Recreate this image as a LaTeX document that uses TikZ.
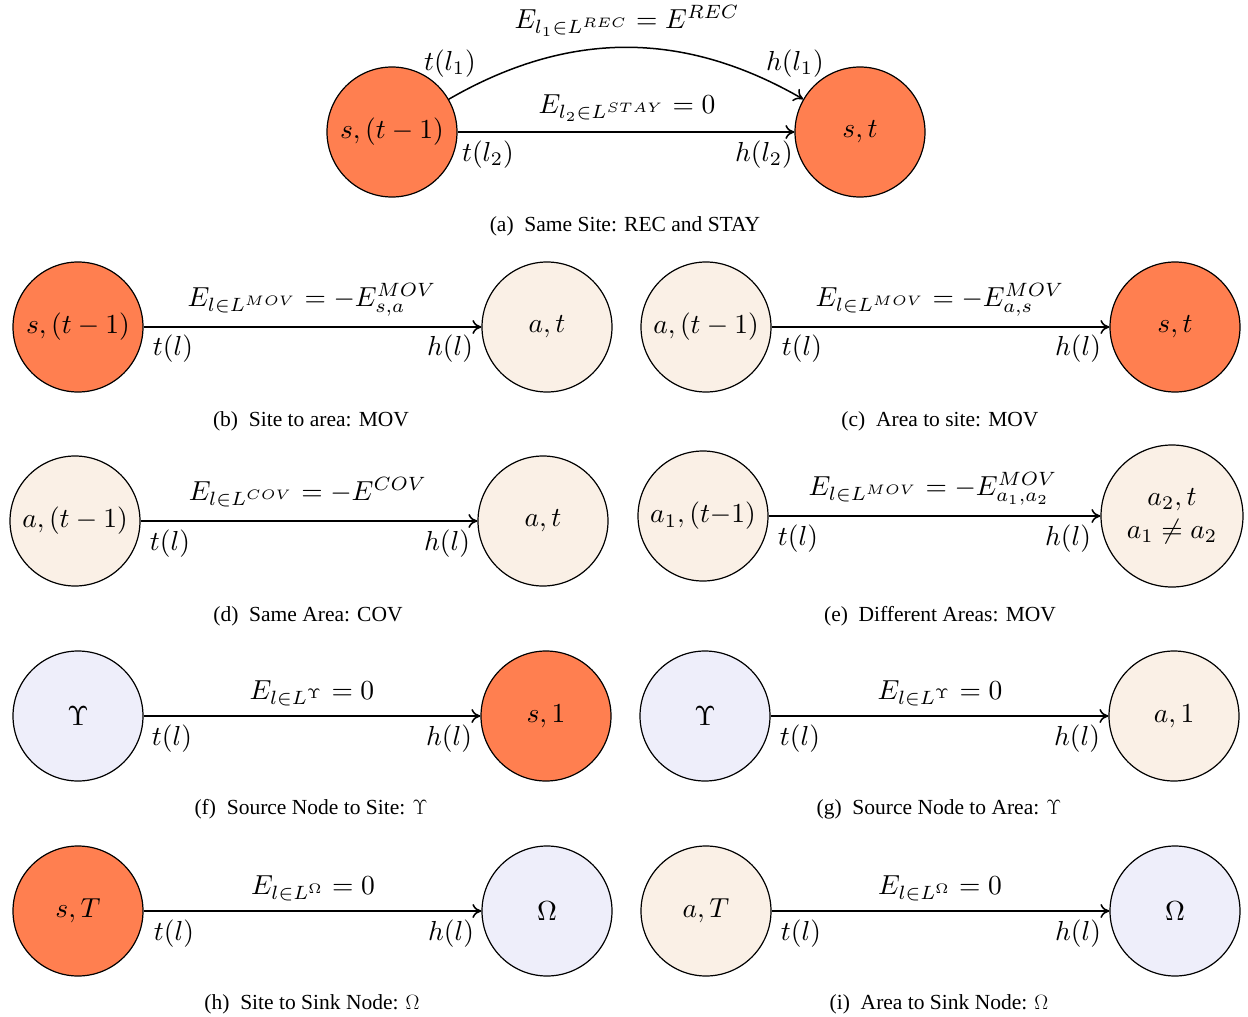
\documentclass[tikz,border=0pt]{standalone}
\usepackage{fontspec}
\setmainfont{Liberation Serif}
\usepackage{amsmath}
\usepackage{graphicx}
\usetikzlibrary{arrows.meta}
\definecolor{siteC}{RGB}{255,127,80}
\definecolor{areaC}{RGB}{250,240,230}
\definecolor{termC}{RGB}{238,238,250}
\newcommand\mymath[1]{\scalebox{2.75}{$#1$}}
\tikzset{
  st/.style={circle,draw=black,line width=1.2pt,minimum size=130pt,inner sep=0pt},
  site/.style={st,fill=siteC},
  area/.style={st,fill=areaC},
  term/.style={st,fill=termC},
  lnk/.style={line width=1.5pt,-{To[length=9pt,width=14pt]}},
  lab/.style={anchor=base,inner sep=0pt},
  captxt/.style={inner sep=0pt,font=\fontsize{21.5}{26}\selectfont}
}
\begin{document}
\begin{tikzpicture}[x=1pt,y=-1pt]
\useasboundingbox (0,0) rectangle (1248,1017);
% (a)
\node[site] (a1) at (392,132) {\mymath{s,(t-1)}};
\node[site] (a2) at (860,132) {\mymath{s,t}};
\draw[lnk] (a1) to[bend left=30] (a2);
\draw[lnk] (a1) -- (a2);
\node[lab] (aE1) at (627,28) {\mymath{E_{l_1\in L^{REC}}=E^{REC}}};
\node[lab] (aE2) at (627,113) {\mymath{E_{l_2\in L^{STAY}}=0}};
\node[lab] (at1) at (450,70) {\mymath{t(l_1)}};
\node[lab] (ah1) at (795,70) {\mymath{h(l_1)}};
\node[lab] (at2) at (488,161) {\mymath{t(l_2)}};
\node[lab] (ah2) at (764,161) {\mymath{h(l_2)}};
\node[captxt] (capa) at (625,226) {(a)\ \ Same Site: REC and STAY};
% (b)
\node[site] (b1) at (78,327) {\mymath{s,(t-1)}};
\node[area] (b2) at (547,327) {\mymath{a,t}};
\draw[lnk] (b1) -- (b2);
\node[lab] (bE) at (312,306) {\mymath{E_{l\in L^{MOV}}=-E^{MOV}_{s,a}}};
\node[lab] (bt) at (173,355) {\mymath{t(l)}};
\node[lab] (bh) at (450,355) {\mymath{h(l)}};
\node[captxt] (capb) at (311,421) {(b)\ \ Site to area: MOV};
% (c)
\node[area] (c1) at (706,327) {\mymath{a,(t-1)}};
\node[site] (c2) at (1175,327) {\mymath{s,t}};
\draw[lnk] (c1) -- (c2);
\node[lab] (cE) at (940,306) {\mymath{E_{l\in L^{MOV}}=-E^{MOV}_{a,s}}};
\node[lab] (ct) at (802,355) {\mymath{t(l)}};
\node[lab] (ch) at (1078,355) {\mymath{h(l)}};
\node[captxt] (capc) at (940,421) {(c)\ \ Area to site: MOV};
% (d)
\node[area] (d1) at (75,521) {\mymath{a,(t-1)}};
\node[area] (d2) at (543,521) {\mymath{a,t}};
\draw[lnk] (d1) -- (d2);
\node[lab] (dE) at (308,500) {\mymath{E_{l\in L^{COV}}=-E^{COV}}};
\node[lab] (dt) at (170,550) {\mymath{t(l)}};
\node[lab] (dh) at (447,550) {\mymath{h(l)}};
\node[captxt] (capd) at (308,616) {(d)\ \ Same Area: COV};
% (e)
\node[area] (e1) at (703,516) {\mymath{a_1,(t{-}1)}};
\node[area,minimum size=142pt,align=center] (e2) at (1172,516) {\mymath{a_2,t}\\[8pt]\mymath{a_1\neq a_2}};
\draw[lnk] (e1) -- (e2);
\node[lab] (eE) at (933,495) {\mymath{E_{l\in L^{MOV}}=-E^{MOV}_{a_1,a_2}}};
\node[lab] (et) at (798,545) {\mymath{t(l)}};
\node[lab] (eh) at (1068,545) {\mymath{h(l)}};
\node[captxt] (cape) at (940,616) {(e)\ \ Different Areas: MOV};
% (f)
\node[term] (f1) at (78,716) {\mymath{\Upsilon}};
\node[site] (f2) at (546,716) {\mymath{s,1}};
\draw[lnk] (f1) -- (f2);
\node[lab] (fE) at (312,699) {\mymath{E_{l\in L^{\Upsilon}}=0}};
\node[lab] (ft) at (172,745) {\mymath{t(l)}};
\node[lab] (fh) at (449,745) {\mymath{h(l)}};
\node[captxt] (capf) at (311,809) {(f)\ \ Source Node to Site: $\Upsilon$};
% (g)
\node[term] (g1) at (705,716) {\mymath{\Upsilon}};
\node[area] (g2) at (1174,716) {\mymath{a,1}};
\draw[lnk] (g1) -- (g2);
\node[lab] (gE) at (940,699) {\mymath{E_{l\in L^{\Upsilon}}=0}};
\node[lab] (gt) at (800,745) {\mymath{t(l)}};
\node[lab] (gh) at (1077,745) {\mymath{h(l)}};
\node[captxt] (capg) at (939,809) {(g)\ \ Source Node to Area: $\Upsilon$};
% (h)
\node[site] (h1) at (78,911) {\mymath{s,T}};
\node[term] (h2) at (547,911) {\mymath{\Omega}};
\draw[lnk] (h1) -- (h2);
\node[lab] (hE) at (313,894) {\mymath{E_{l\in L^{\Omega}}=0}};
\node[lab] (ht) at (174,940) {\mymath{t(l)}};
\node[lab] (hh) at (451,940) {\mymath{h(l)}};
\node[captxt] (caph) at (312,1004) {(h)\ \ Site to Sink Node: $\Omega$};
% (i)
\node[area] (i1) at (706,911) {\mymath{a,T}};
\node[term] (i2) at (1175,911) {\mymath{\Omega}};
\draw[lnk] (i1) -- (i2);
\node[lab] (iE) at (940,894) {\mymath{E_{l\in L^{\Omega}}=0}};
\node[lab] (it) at (801,940) {\mymath{t(l)}};
\node[lab] (ih) at (1078,940) {\mymath{h(l)}};
\node[captxt] (capi) at (939,1004) {(i)\ \ Area to Sink Node: $\Omega$};
\end{tikzpicture}
\end{document}
